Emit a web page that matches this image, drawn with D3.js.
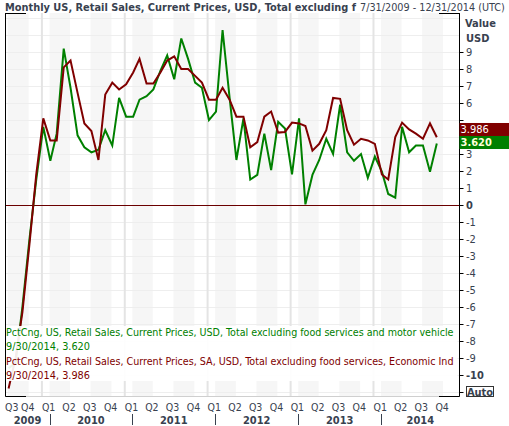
<!DOCTYPE html>
<html>
<head>
<meta charset="utf-8">
<script src="https://cdn.jsdelivr.net/npm/d3@7"></script>
<style>
  body { margin: 0; background: #fff; }
  svg { display: block; font-family: Tahoma, "DejaVu Sans Condensed", "Liberation Sans", sans-serif; }
</style>
</head>
<body>
<svg id="chart" width="509" height="426"></svg>
<script>
// monthly observations, month-end dated
var months = [
  '2009-07', '2009-08', '2009-09', '2009-10', '2009-11', '2009-12',
  '2010-01', '2010-02', '2010-03', '2010-04', '2010-05', '2010-06',
  '2010-07', '2010-08', '2010-09', '2010-10', '2010-11', '2010-12',
  '2011-01', '2011-02', '2011-03', '2011-04', '2011-05', '2011-06',
  '2011-07', '2011-08', '2011-09', '2011-10', '2011-11', '2011-12',
  '2012-01', '2012-02', '2012-03', '2012-04', '2012-05', '2012-06',
  '2012-07', '2012-08', '2012-09', '2012-10', '2012-11', '2012-12',
  '2013-01', '2013-02', '2013-03', '2013-04', '2013-05', '2013-06',
  '2013-07', '2013-08', '2013-09', '2013-10', '2013-11', '2013-12',
  '2014-01', '2014-02', '2014-03', '2014-04', '2014-05', '2014-06',
  '2014-07', '2014-08', '2014-09'
];

// green: total excluding food services and motor vehicle
var exMotorValues = [
  -9.6, -9.3, -6.0, -2.0, 1.5, 4.6,
  2.6, 4.2, 9.2, 6.9, 4.1, 3.4, 3.1, 3.25, 4.4, 3.5, 6.3, 5.2,
  5.2, 6.2, 6.4, 6.8, 7.9, 8.8, 7.4, 9.8, 8.6, 7.2, 6.9, 5.0,
  5.5, 10.3, 6.3, 2.65, 5.1, 1.5, 1.77, 4.2, 2.06, 4.9, 4.5, 1.8,
  5.1, 0.04, 1.77, 2.65, 3.9, 3.0, 5.9, 3.1, 2.6, 3.0, 1.6, 2.85,
  1.96, 0.65, 0.43, 4.6, 3.1, 3.5, 3.5, 1.96, 3.620
];

// dark red: SA, total excluding food services
var exFoodValues = [
  -10.8, -9.0, -6.3, -2.3, 1.8, 5.1,
  3.8, 3.8, 8.1, 8.5, 6.6, 4.8, 4.35, 2.65, 6.5, 7.2, 6.8, 7.1,
  7.8, 8.6, 7.15, 7.15, 7.8, 8.5, 8.75, 8.0, 8.0, 7.6, 7.2, 6.2,
  6.2, 6.9, 6.2, 5.2, 5.2, 3.4, 3.7, 5.2, 5.5, 4.26, 4.3, 4.85,
  4.8, 4.65, 3.2, 3.6, 4.4, 6.3, 6.25, 4.4, 3.55, 3.9, 3.8, 3.6,
  1.8, 1.5, 4.0, 4.85, 4.45, 4.2, 3.9, 4.8, 3.986
];

var yTickValues = [9, 8, 7, 6, 5, 4, 3, 2, 1, 0, -1, -2, -3, -4, -5, -6, -7, -8, -9, -10, -11];
var quarterLabels = ['Q1', 'Q2', 'Q3', 'Q4'];
var yearLabels = ['2009', '2010', '2011', '2012', '2013', '2014'];

var titleText = 'Monthly US, Retail Sales, Current Prices, USD, Total excluding f';
var rangeText = '7/31/2009 - 12/31/2014 (UTC)';
var legendItems = [
  { name: 'PctCng, US, Retail Sales, Current Prices, USD, Total excluding food services and motor vehicle', last: '9/30/2014, 3.620', color: '#008000' },
  { name: 'PctCng, US, Retail Sales, Current Prices, SA, USD, Total excluding food services, Economic Ind', last: '9/30/2014, 3.986', color: '#800000' }
];

var textColor = '#38414f';
var plot = { left: 5.5, right: 459.5, top: 13, bottom: 397 };

var parseMonth = d3.utcParse('%Y-%m');
var dates = months.map(m => d3.utcDay.offset(d3.utcMonth.offset(parseMonth(m), 1), -1));

var series = [
  { values: exMotorValues, color: '#008000', labelFill: '#ffffd8', bold: true },
  { values: exFoodValues, color: '#800000', labelFill: '#ffffff', bold: false }
];

var x = d3.scaleUtc()
  .domain([new Date(Date.UTC(2009, 11, 31)), new Date(Date.UTC(2014, 8, 30))])
  .range([43.3, 436.8]);

var y = d3.scaleLinear()
  .domain([-11.3, 11.3])
  .range([plot.bottom, plot.top]);

// shrink a text's font until it spans the wanted width (no glyph squeezing)
function fitWidth(sel, width) {
  sel.each(function (d) {
    var w = typeof width === 'function' ? width(d) : width;
    var size = +this.getAttribute('font-size');
    var len = this.getComputedTextLength();
    if (len > 0) this.setAttribute('font-size', (size * w / len).toFixed(2));
  });
}

const svg = d3.select('#chart');

svg.append('defs')
  .append('clipPath')
  .attr('id', 'plot-clip')
  .append('rect')
  .attr('x', plot.left)
  .attr('y', plot.top)
  .attr('width', plot.right - plot.left)
  .attr('height', plot.bottom - plot.top);

const bg = svg.append('g').attr('clip-path', 'url(#plot-clip)');

// shaded half-year bands (start shifted ~1 month like the source chart)
var bandStarts = d3.utcMonth.range(new Date(Date.UTC(2009, 6, 1)), new Date(Date.UTC(2015, 0, 1)), 6);
bg.selectAll('.band')
  .data(bandStarts)
  .enter()
  .append('rect')
  .attr('class', 'band')
  .attr('x', d => x(d) + 6)
  .attr('y', plot.top)
  .attr('width', d => x(d3.utcMonth.offset(d, 3)) - x(d))
  .attr('height', plot.bottom - plot.top)
  .style('fill', '#f6f6f6');

// horizontal grid
bg.selectAll('.hgrid')
  .data(d3.range(-11, 12))
  .enter()
  .append('line')
  .attr('class', 'hgrid')
  .attr('x1', plot.left)
  .attr('x2', plot.right)
  .attr('y1', d => Math.round(y(d)) + 0.5)
  .attr('y2', d => Math.round(y(d)) + 0.5)
  .style('stroke', '#eeeeee')
  .style('stroke-width', 1);

// year separators
var yearStarts = d3.utcYear.range(new Date(Date.UTC(2010, 0, 1)), new Date(Date.UTC(2015, 0, 1)));
bg.selectAll('.vyear')
  .data(yearStarts)
  .enter()
  .append('line')
  .attr('class', 'vyear')
  .attr('x1', d => x(d) - 1.6)
  .attr('x2', d => x(d) - 1.6)
  .attr('y1', plot.top)
  .attr('y2', plot.bottom)
  .style('stroke', '#e4e4e4')
  .style('stroke-width', 2);

// zero line
bg.append('line')
  .attr('x1', plot.left)
  .attr('x2', plot.right)
  .attr('y1', Math.round(y(0)) + 0.5)
  .attr('y2', Math.round(y(0)) + 0.5)
  .style('stroke', '#6b0000')
  .style('stroke-width', 1);

var legendRows = [];
legendItems.forEach(item => {
  legendRows.push({ text: item.name, color: item.color, len: 448 });
  legendRows.push({ text: item.last, color: item.color, len: 84 });
});

const lineLayer = svg.append('g').attr('clip-path', 'url(#plot-clip)');

var line = d3.line()
  .x((d, i) => x(dates[i]))
  .y(d => y(d));

lineLayer.selectAll('.series')
  .data(series)
  .enter()
  .append('path')
  .attr('class', 'series')
  .attr('d', d => line(d.values))
  .style('fill', 'none')
  .style('stroke', d => d.color)
  .style('stroke-width', 2)
  .style('stroke-linejoin', 'miter');

// legend block with a light backing so lines go behind it
const legendTop = svg.append('g').attr('clip-path', 'url(#plot-clip)');
legendTop.append('rect')
  .attr('x', plot.left)
  .attr('y', 326)
  .attr('width', 452)
  .attr('height', 55)
  .style('fill', '#fff')
  .style('fill-opacity', 0.92);

legendTop.selectAll('.legend-row')
  .data(legendRows)
  .enter()
  .append('text')
  .attr('class', 'legend-row')
  .attr('x', 6)
  .attr('y', (d, i) => 336 + i * 14.4)
  .attr('font-size', 11)
  .style('fill', d => d.color)
  .text(d => d.text)
  .call(fitWidth, d => d.len);

// frame
svg.append('line')
  .attr('x1', plot.left).attr('x2', plot.left)
  .attr('y1', plot.top).attr('y2', plot.bottom)
  .style('stroke', '#000');
svg.append('line')
  .attr('x1', plot.right).attr('x2', plot.right)
  .attr('y1', plot.top).attr('y2', plot.bottom)
  .style('stroke', '#000');
svg.append('line')
  .attr('x1', plot.left).attr('x2', plot.right)
  .attr('y1', plot.bottom - 0.5).attr('y2', plot.bottom - 0.5)
  .style('stroke', '#cfcfcf');
[[plot.left, 26], [439, plot.right]].forEach(seg => {
  [plot.top + 0.5, plot.bottom - 0.5].forEach(yy => {
    svg.append('line')
      .attr('x1', seg[0]).attr('x2', seg[1])
      .attr('y1', yy).attr('y2', yy)
      .style('stroke', '#000');
  });
});

// last value flags, stacked so they don't overlap
var flagH = 13;
var greenTop = y(exMotorValues[exMotorValues.length - 1]) - 7.5;
var flags = [
  { s: series[0], top: greenTop },
  { s: series[1], top: Math.min(y(exFoodValues[exFoodValues.length - 1]) - 6.5, greenTop - flagH) }
];
var flagTop = d3.min(flags, d => d.top);
var flagBottom = d3.max(flags, d => d.top) + flagH;

// right value axis
const axis = svg.append('g');
axis.selectAll('.ytick')
  .data(yTickValues)
  .enter()
  .append('line')
  .attr('class', 'ytick')
  .attr('x1', plot.right)
  .attr('x2', plot.right + 4)
  .attr('y1', d => Math.round(y(d)) + 0.5)
  .attr('y2', d => Math.round(y(d)) + 0.5)
  .style('stroke', '#000');

// labels hidden behind the flags are left out
axis.selectAll('.ylabel')
  .data(yTickValues.filter(d => d > -11 && (y(d) + 4 < flagTop || y(d) - 4 > flagBottom)))
  .enter()
  .append('text')
  .attr('class', 'ylabel')
  .attr('x', 466)
  .attr('y', d => y(d))
  .attr('dy', '0.36em')
  .attr('font-size', 11)
  .attr('font-weight', d => (d === 0 || d === -10) ? 'bold' : 'normal')
  .style('fill', textColor)
  .text(d => d);

axis.append('text')
  .attr('x', 465).attr('y', 27)
  .attr('font-size', 11).attr('font-weight', 'bold')
  .style('fill', textColor)
  .text('Value');
axis.append('text')
  .attr('x', 466).attr('y', 42)
  .attr('font-size', 11).attr('font-weight', 'bold')
  .style('fill', textColor)
  .text('USD');

axis.append('rect')
  .attr('x', 466.5).attr('y', 386.5)
  .attr('width', 27).attr('height', 10)
  .style('fill', '#fff')
  .style('stroke', '#333');
axis.append('text')
  .attr('x', 480).attr('y', 395.5)
  .attr('text-anchor', 'middle')
  .attr('font-size', 11).attr('font-weight', 'bold')
  .style('fill', textColor)
  .text('Auto');

const flag = axis.selectAll('.flag')
  .data(flags)
  .enter()
  .append('g')
  .attr('class', 'flag');
flag.append('rect')
  .attr('x', plot.right)
  .attr('y', d => d.top)
  .attr('width', 509 - plot.right)
  .attr('height', flagH)
  .style('fill', d => d.s.color);
flag.append('text')
  .attr('x', plot.right + 1)
  .attr('y', d => d.top + 10.5)
  .attr('font-size', 11)
  .attr('font-weight', d => d.s.bold ? 'bold' : 'normal')
  .style('fill', d => d.s.labelFill)
  .text(d => d3.format('.3f')(d.s.values[d.s.values.length - 1]));

// bottom time axis
var quarterStarts = d3.utcMonth.range(new Date(Date.UTC(2009, 6, 1)), new Date(Date.UTC(2015, 0, 1)), 3);
svg.selectAll('.qlabel')
  .data(quarterStarts)
  .enter()
  .append('text')
  .attr('class', 'qlabel')
  .attr('x', d => Math.max(x(d) - 1.6, 5))
  .attr('y', 411)
  .attr('font-size', 10.5)
  .style('fill', textColor)
  .text(d => quarterLabels[Math.floor(d.getUTCMonth() / 3)]);

var yearEdges = [plot.left].concat(yearStarts.map(d => x(d) + 6)).concat([plot.right]);
svg.selectAll('.ylab')
  .data(yearLabels)
  .enter()
  .append('text')
  .attr('class', 'ylab')
  .attr('x', (d, i) => (yearEdges[i] + yearEdges[i + 1]) / 2)
  .attr('y', 424)
  .attr('text-anchor', 'middle')
  .attr('font-size', 11)
  .attr('font-weight', 'bold')
  .style('fill', textColor)
  .text(d => d);

svg.selectAll('.ysep')
  .data(yearStarts)
  .enter()
  .append('line')
  .attr('class', 'ysep')
  .attr('x1', d => Math.round(x(d) + 6) + 0.5)
  .attr('x2', d => Math.round(x(d) + 6) + 0.5)
  .attr('y1', 414)
  .attr('y2', 425)
  .style('stroke', textColor);

// title
svg.append('text')
  .attr('x', 5).attr('y', 11)
  .attr('font-size', 11).attr('font-weight', 'bold')
  .style('fill', textColor)
  .text(titleText)
  .call(fitWidth, 351);
svg.append('text')
  .attr('x', 360).attr('y', 11)
  .attr('font-size', 11)
  .style('fill', textColor)
  .text(rangeText)
  .call(fitWidth, 145);
</script>
</body>
</html>
